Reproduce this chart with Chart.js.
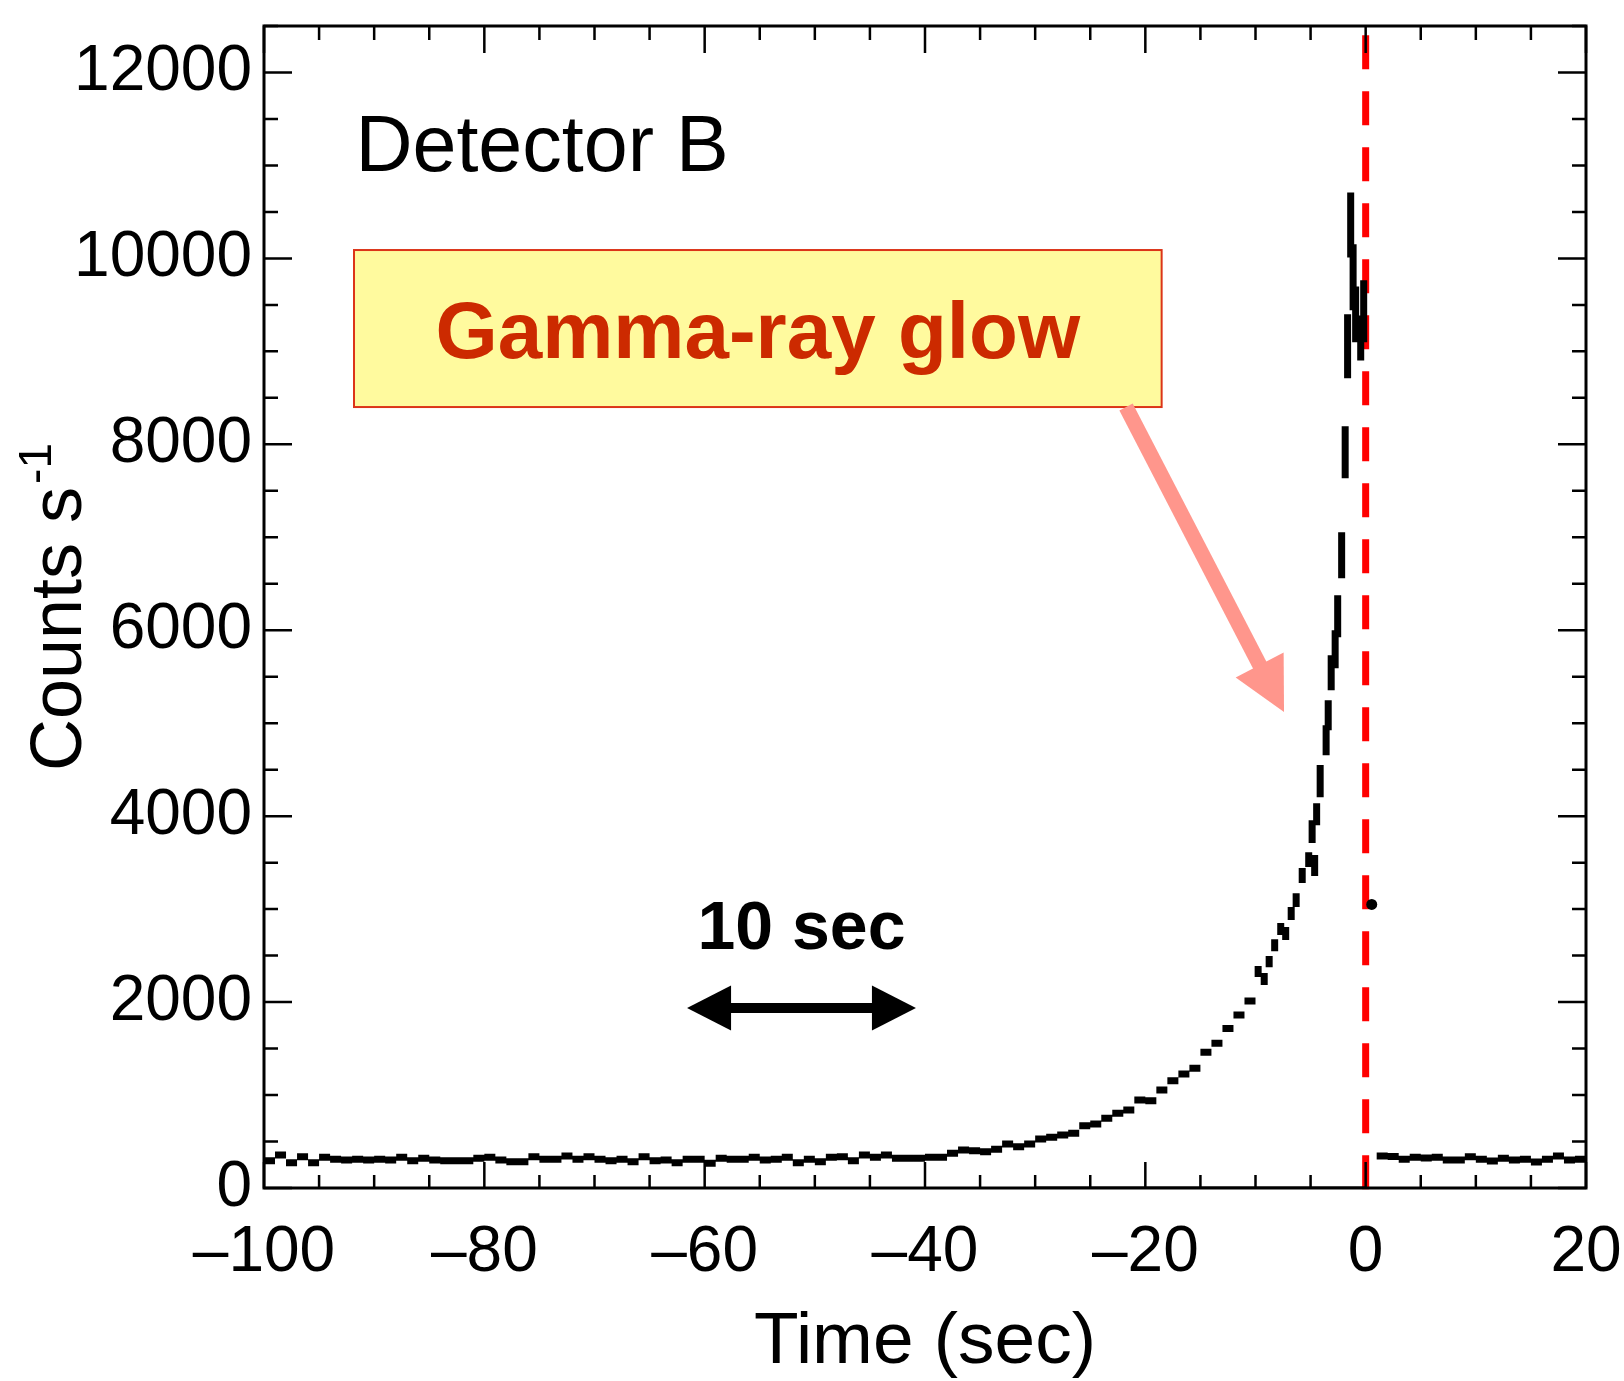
<!DOCTYPE html>
<html>
<head>
<meta charset="utf-8">
<title>Detector B - Gamma-ray glow</title>
<script src="https://cdn.jsdelivr.net/npm/chart.js@4.4.1/dist/chart.umd.min.js"></script>
<style>
  html, body { margin: 0; padding: 0; background: #fff; }
  canvas { display: block; }
</style>
</head>
<body>
<canvas id="glowChart" width="1624" height="1381"></canvas>
<script>
const FONT = "'Liberation Sans', Arial, Helvetica, sans-serif";

// 1 s bins before the trigger, first bin starts at -100 s (counts/s)
const preStart = -100;
const preRate = [
    294, 355, 272, 337, 272, 330, 308, 301, 308, 301,
    308, 301, 330, 294, 319, 301, 294, 294, 294, 319,
    330, 301, 283, 283, 337, 308, 308, 344, 308, 337,
    308, 294, 308, 283, 337, 294, 301, 272, 308, 308,
    265, 319, 308, 308, 330, 301, 308, 330, 272, 308,
    283, 330, 337, 294, 355, 330, 355, 319, 319, 319,
    330, 330, 373, 409, 400, 390, 416, 473, 444, 473,
    527, 545, 570, 588, 670, 688, 749, 803, 839, 946,
    939, 1054, 1154, 1226, 1287, 1459, 1556, 1717, 1860, 2011
];

// fine resolution samples in the last seconds (time, low, high)
const fineTime = [-9.76, -9.21, -8.76, -8.26, -7.71, -7.26, -6.76, -6.31, -5.76, -5.17,
                  -4.86, -4.63, -4.45, -4.13, -3.59, -3.40, -3.13, -2.77, -2.54, -2.18,
                  -1.86, -1.64, -1.36, -1.14, -0.91, -0.45, -0.18];
const fineLow  = [2269, 2183, 2376, 2548, 2721, 2667, 2882, 3022, 3280, 3452,
                  3710, 3355, 3903, 4204, 4656, 4925, 5355, 5592, 5925, 6560,
                  7635, 8710, 10011, 9441, 9097, 8903, 9097];
const fineHigh = [2387, 2312, 2495, 2677, 2850, 2807, 3022, 3172, 3441, 3613,
                  3957, 3581, 4140, 4550, 4979, 5248, 5731, 6000, 6377, 7054,
                  8194, 9398, 10710, 10151, 9699, 9387, 9764];

// single sample right after the trigger
const dotTime = [0.55];
const dotRate = [3050];

// 1 s bins after the trigger, first bin starts at 1 s
const postStart = 1;
const postRate = [344, 340, 308, 330, 323, 330, 301, 301, 337, 308,
                  290, 319, 301, 308, 280, 308, 344, 301, 308];

// flat trace at zero
const zeroTime = [-30, 0];
const zeroRate = [0, 0];

const triggerTime = 0;

// each bin as its own horizontal dash
function binDashes(start, rates) {
    const pts = [];
    rates.forEach((r, i) => {
        const t = start + i;
        pts.push({x: t, y: r}, {x: t + 1, y: r}, {x: t + 1, y: null});
    });
    return pts;
}

const stepPoints = binDashes(preStart, preRate).concat(binDashes(postStart, postRate));
const finePoints = [];
fineTime.forEach((t, i) => {
    finePoints.push({x: t, y: fineLow[i]}, {x: t, y: fineHigh[i]}, {x: t, y: null});
});

const frameTicks = {
    id: 'frameTicks',
    afterDatasetsDraw(chart) {
        const {ctx, chartArea: a, scales: {x, y}} = chart;
        ctx.save();
        ctx.strokeStyle = '#000';
        ctx.lineWidth = 2.5;
        ctx.beginPath();
        x.ticks.forEach(t => {
            const px = x.getPixelForValue(t.value);
            const major = t.value % 20 === 0;
            ctx.moveTo(px, a.bottom); ctx.lineTo(px, a.bottom - (major ? 26 : 13));
            ctx.moveTo(px, a.top); ctx.lineTo(px, a.top + (major ? 27 : 14));
        });
        y.ticks.forEach(t => {
            const py = y.getPixelForValue(t.value);
            const len = t.value % 2000 === 0 ? 28 : 14;
            ctx.moveTo(a.left, py); ctx.lineTo(a.left + len, py);
            ctx.moveTo(a.right, py); ctx.lineTo(a.right - len, py);
        });
        ctx.stroke();
        ctx.lineWidth = 3;
        ctx.strokeRect(a.left, a.top, a.right - a.left, a.bottom - a.top);
        ctx.restore();
    }
};

function arrowHead(ctx, tipX, tipY, ux, uy, headLen, headHalf) {
    const bx = tipX - ux * headLen, by = tipY - uy * headLen;
    ctx.beginPath();
    ctx.moveTo(tipX, tipY);
    ctx.lineTo(bx - uy * headHalf, by + ux * headHalf);
    ctx.lineTo(bx + uy * headHalf, by - ux * headHalf);
    ctx.closePath();
    ctx.fill();
}

function drawArrow(ctx, x0, y0, x1, y1, width, headLen, headHalf, both) {
    const dx = x1 - x0, dy = y1 - y0;
    const len = Math.hypot(dx, dy);
    const ux = dx / len, uy = dy / len;
    const back = headLen - 2;
    ctx.lineWidth = width;
    ctx.lineCap = 'butt';
    ctx.beginPath();
    ctx.moveTo(both ? x0 + ux * back : x0, both ? y0 + uy * back : y0);
    ctx.lineTo(x1 - ux * back, y1 - uy * back);
    ctx.stroke();
    arrowHead(ctx, x1, y1, ux, uy, headLen, headHalf);
    if (both) arrowHead(ctx, x0, y0, -ux, -uy, headLen, headHalf);
}

const notes = {
    id: 'notes',
    afterDraw(chart) {
        const {ctx, chartArea: a, scales: {x, y}} = chart;
        const X = v => x.getPixelForValue(v);
        const Y = v => y.getPixelForValue(v);
        ctx.save();

        // panel name
        ctx.fillStyle = '#000';
        ctx.textAlign = 'left';
        ctx.textBaseline = 'alphabetic';
        ctx.font = `79px ${FONT}`;
        ctx.fillText('Detector B', X(-91.7), Y(10940));

        // labelled box
        const bx0 = X(-91.83), bx1 = X(-18.52), by0 = Y(10090), by1 = Y(8401);
        ctx.fillStyle = '#FFFA9E';
        ctx.fillRect(bx0, by0, bx1 - bx0, by1 - by0);
        ctx.strokeStyle = '#DC3418';
        ctx.lineWidth = 2;
        ctx.strokeRect(bx0, by0, bx1 - bx0, by1 - by0);
        ctx.fillStyle = '#CC2A00';
        ctx.textAlign = 'center';
        ctx.font = `bold 80px ${FONT}`;
        ctx.fillText('Gamma-ray glow', (bx0 + bx1) / 2, Y(8928));

        // pointer
        ctx.fillStyle = '#FF968C';
        ctx.strokeStyle = '#FF968C';
        drawArrow(ctx, X(-21.75), Y(8401), X(-7.41), Y(5120), 15, 53, 27, false);

        // time scale marker
        ctx.fillStyle = '#000';
        ctx.strokeStyle = '#000';
        ctx.font = `bold 68px ${FONT}`;
        ctx.fillText('10 sec', X(-51.21), Y(2571));
        drawArrow(ctx, X(-61.6), Y(1936), X(-40.82), Y(1936), 10, 44, 22.5, true);

        // y axis title with superscript
        ctx.save();
        ctx.translate(a.left - 183, (a.top + a.bottom) / 2);
        ctx.rotate(-Math.PI / 2);
        ctx.textAlign = 'left';
        ctx.font = `72px ${FONT}`;
        const main = 'Counts s';
        const w1 = ctx.measureText(main).width;
        ctx.font = `46px ${FONT}`;
        const w2 = ctx.measureText('-1').width;
        const x0 = -(w1 + w2 + 3) / 2;
        ctx.font = `72px ${FONT}`;
        ctx.fillText(main, x0, 0);
        ctx.font = `46px ${FONT}`;
        ctx.fillText('-1', x0 + w1 + 3, -30);
        ctx.restore();

        ctx.restore();
    }
};

function noPadding(s) {
    s.paddingLeft = 0;
    s.paddingRight = 0;
    s.paddingTop = 0;
    s.paddingBottom = 0;
}

const ctx = document.getElementById('glowChart').getContext('2d');
new Chart(ctx, {
    type: 'line',
    data: {
        datasets: [
            {
                label: 'trigger',
                data: [{x: triggerTime, y: 12400}, {x: triggerTime, y: -35}],
                borderColor: '#FF0000',
                borderWidth: 7,
                borderDash: [34, 22],
                borderCapStyle: 'butt',
                pointRadius: 0,
                clip: false,
                order: 4
            },
            {
                label: 'zero',
                data: zeroTime.map((t, i) => ({x: t, y: zeroRate[i]})),
                borderColor: '#000',
                borderWidth: 3,
                pointRadius: 0,
                order: 3
            },
            {
                label: 'rate',
                data: stepPoints,
                borderColor: '#000',
                borderWidth: 7,
                borderCapStyle: 'butt',
                pointRadius: 0,
                spanGaps: false,
                order: 1
            },
            {
                label: 'fine',
                data: finePoints,
                borderColor: '#000',
                borderWidth: 7,
                borderCapStyle: 'butt',
                pointRadius: 0,
                spanGaps: false,
                order: 1
            },
            {
                label: 'after',
                data: dotTime.map((t, i) => ({x: t, y: dotRate[i]})),
                showLine: false,
                pointRadius: 5.5,
                pointBorderWidth: 0,
                pointBackgroundColor: '#000',
                order: 1
            }
        ]
    },
    options: {
        responsive: false,
        animation: false,
        devicePixelRatio: 1,
        layout: {padding: {top: 26, right: 38, left: 0, bottom: 0}},
        elements: {line: {tension: 0}},
        plugins: {legend: {display: false}, tooltip: {enabled: false}},
        scales: {
            x: {
                type: 'linear',
                min: -100,
                max: 20,
                grid: {display: false, drawTicks: false},
                border: {display: false},
                ticks: {
                    stepSize: 5,
                    autoSkip: false,
                    maxRotation: 0,
                    padding: 27,
                    color: '#000',
                    font: {family: FONT, size: 64},
                    callback: v => v % 20 === 0 ? (v < 0 ? '\u2013' + (-v) : String(v)) : ''
                },
                title: {
                    display: true,
                    text: 'Time (sec)',
                    color: '#000',
                    font: {family: FONT, size: 73, lineHeight: 1},
                    padding: {top: 0, bottom: 2}
                },
                afterFit: s => { s.height = 193; noPadding(s); }
            },
            y: {
                min: 0,
                max: 12500,
                grid: {display: false, drawTicks: false},
                border: {display: false},
                ticks: {
                    stepSize: 500,
                    autoSkip: false,
                    padding: 12,
                    color: '#000',
                    font: {family: FONT, size: 64},
                    callback: v => v % 2000 === 0 ? String(v) : ''
                },
                afterFit: s => { s.width = 264; noPadding(s); }
            }
        }
    },
    plugins: [frameTicks, notes]
});
</script>
</body>
</html>
